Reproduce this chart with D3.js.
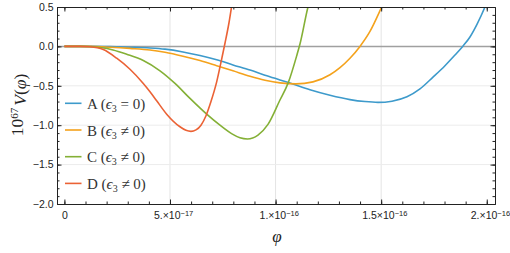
<!DOCTYPE html>
<html>
<head>
<meta charset="utf-8">
<script src="https://cdn.jsdelivr.net/npm/d3@7"></script>
<style>
  body { margin: 0; background: #fff; }
  svg { display: block; }
</style>
</head>
<body>
<div class="chart"></div>
<script>
// phi values are in units of 1e-17, V in units of 1e-67
const UNIT = 1e-17;

const phiA = [0, 1.212, 2.159, 3.106, 4.053, 4.763, 5.616, 6.420, 7.211, 7.983, 8.788, 9.498, 10.208, 10.682, 11.629, 12.576, 13.523, 14.233, 14.848, 15.511, 16.222, 16.837, 17.453, 18.021, 18.494, 18.859, 19.205, 19.536, 19.915, 20.152];
const vA   = [0, 0, -0.003, -0.01, -0.02, -0.035, -0.07, -0.115, -0.17, -0.235, -0.30, -0.365, -0.425, -0.465, -0.55, -0.62, -0.675, -0.70, -0.71, -0.695, -0.64, -0.54, -0.39, -0.245, -0.11, 0, 0.12, 0.28, 0.5, 0.66];

const phiB = [0, 1.212, 2.159, 3.106, 4.053, 4.763, 5.616, 6.420, 7.211, 7.983, 8.788, 9.498, 10.208, 10.966, 11.771, 12.576, 13.049, 13.523, 13.996, 14.470, 15.024, 15.227];
const vB   = [0, 0, -0.01, -0.025, -0.045, -0.075, -0.125, -0.18, -0.245, -0.31, -0.38, -0.43, -0.463, -0.475, -0.45, -0.36, -0.27, -0.15, 0, 0.19, 0.5, 0.62];

const phiC = [0, 0.739, 1.354, 1.686, 2.301, 2.950, 3.736, 4.527, 5.237, 5.947, 6.738, 7.367, 7.936, 8.314, 8.670, 9.167, 9.640, 10.208, 10.601, 10.999, 11.155, 11.534, 11.676];
const vC   = [0, 0, -0.005, -0.015, -0.045, -0.10, -0.18, -0.31, -0.47, -0.66, -0.86, -1.0, -1.11, -1.16, -1.175, -1.125, -0.99, -0.68, -0.46, -0.12, 0.03, 0.5, 0.64];

const phiD = [0, 0.739, 1.212, 1.842, 2.476, 3.106, 3.736, 4.053, 4.370, 4.844, 5.473, 5.758, 5.994, 6.231, 6.468, 6.705, 6.941, 7.211, 7.448, 7.604, 7.794, 7.959];
const vD   = [0, 0, -0.005, -0.04, -0.15, -0.29, -0.47, -0.575, -0.69, -0.86, -1.02, -1.065, -1.078, -1.06, -1.0, -0.88, -0.70, -0.45, -0.16, 0.04, 0.3, 0.58];

const seriesNames = ["A", "B", "C", "D"];
const legendLabels = [["A (", "ϵ", "3", " = 0)"], ["B (", "ϵ", "3", " ≠ 0)"], ["C (", "ϵ", "3", " ≠ 0)"], ["D (", "ϵ", "3", " ≠ 0)"]];
const colors = ["#3d9acb", "#f4a21c", "#84b036", "#eb6235"];

const xTicks = [0, 5e-17, 1e-16, 1.5e-16, 2e-16];
const xTickMant = ["0", "5.×10", "1.×10", "1.5×10", "2.×10"];
const xTickExp = ["", "−17", "−16", "−16", "−16"];
const yTicks = [-2, -1.5, -1, -0.5, 0, 0.5];
const yTickLabels = ["−2.0", "−1.5", "−1.0", "−0.5", "0.0", "0.5"];

const width = 510, height = 253;
const plot = { left: 57, right: 495, top: 7, bottom: 204 };

const svg = d3.select('.chart')
              .append('svg')
              .attr('width', width)
              .attr('height', height);

const x = d3.scaleLinear()
            .domain([-0.35 * UNIT, 20.39 * UNIT])
            .range([plot.left, plot.right]);

const y = d3.scaleLinear()
            .domain([-2, 0.5])
            .range([plot.bottom, plot.top]);

//grid lines
svg.append('g')
   .selectAll('line')
   .data(xTicks.slice(1, 4))
   .enter()
   .append('line')
   .attr('x1', d => x(d)).attr('x2', d => x(d))
   .attr('y1', plot.top).attr('y2', plot.bottom)
   .attr('stroke', '#e4e4e4')
   .attr('stroke-width', 1);

svg.append('g')
   .selectAll('line')
   .data([-1.5, -1, -0.5])
   .enter()
   .append('line')
   .attr('x1', plot.left).attr('x2', plot.right)
   .attr('y1', d => y(d)).attr('y2', d => y(d))
   .attr('stroke', '#ececec')
   .attr('stroke-width', 1);

//zero axis
svg.append('line')
   .attr('x1', plot.left).attr('x2', plot.right)
   .attr('y1', y(0)).attr('y2', y(0))
   .attr('stroke', '#a0a0a0')
   .attr('stroke-width', 1.5);

//curves, clipped to the frame
svg.append('clipPath')
   .attr('id', 'clip')
   .append('rect')
   .attr('x', plot.left).attr('y', plot.top)
   .attr('width', plot.right - plot.left)
   .attr('height', plot.bottom - plot.top);

const allPhi = [phiA, phiB, phiC, phiD];
const allV = [vA, vB, vC, vD];

const line = d3.line()
               .x(d => x(d[0] * UNIT))
               .y(d => y(d[1]))
               .curve(d3.curveMonotoneX);

svg.append('g')
   .attr('clip-path', 'url(#clip)')
   .selectAll('path')
   .data(seriesNames)
   .enter()
   .append('path')
   .attr('d', (name, i) => line(d3.zip(allPhi[i], allV[i])))
   .attr('fill', 'none')
   .attr('stroke', (name, i) => colors[i])
   .attr('stroke-width', 1.6);

//frame with inward ticks
const minorX = d3.range(0, 21).map(k => k * UNIT);
const minorY = d3.range(-20, 6).map(k => k / 10);

function styleAxis(g) {
    g.select('.domain').attr('stroke', '#222');
    g.selectAll('.tick line').attr('stroke', '#222');
    g.selectAll('text').attr('fill', '#222')
     .style('font-family', '"Liberation Sans", Arial, sans-serif')
     .style('font-size', '10.5px');
}

svg.append('g')
   .attr('transform', `translate(0, ${plot.bottom})`)
   .call(d3.axisBottom(x).tickValues(minorX).tickSize(-2.5).tickFormat('').tickSizeOuter(0))
   .call(styleAxis);
const bottomAxis = svg.append('g')
   .attr('transform', `translate(0, ${plot.bottom})`)
   .call(d3.axisBottom(x).tickValues(xTicks).tickSize(-4.5).tickPadding(8).tickSizeOuter(0))
   .call(styleAxis);
bottomAxis.selectAll('.tick text').each(function (d, i) {
    const t = d3.select(this).text(xTickMant[i]).attr('dy', '0.71em');
    if (xTickExp[i]) {
        t.append('tspan').text(xTickExp[i])
         .attr('dy', '-0.45em')
         .style('font-size', '7.5px');
        t.attr('dx', '0.3em');
    }
});

svg.append('g')
   .attr('transform', `translate(0, ${plot.top})`)
   .call(d3.axisTop(x).tickValues(minorX).tickSize(-2.5).tickFormat('').tickSizeOuter(0))
   .call(styleAxis);
svg.append('g')
   .attr('transform', `translate(0, ${plot.top})`)
   .call(d3.axisTop(x).tickValues(xTicks).tickSize(-4.5).tickFormat('').tickSizeOuter(0))
   .call(styleAxis);

svg.append('g')
   .attr('transform', `translate(${plot.left}, 0)`)
   .call(d3.axisLeft(y).tickValues(minorY).tickSize(-2.5).tickFormat('').tickSizeOuter(0))
   .call(styleAxis);
svg.append('g')
   .attr('transform', `translate(${plot.left}, 0)`)
   .call(d3.axisLeft(y).tickValues(yTicks).tickSize(-4.5).tickPadding(3.5)
         .tickFormat((d, i) => yTickLabels[i]).tickSizeOuter(0))
   .call(styleAxis);

svg.append('g')
   .attr('transform', `translate(${plot.right}, 0)`)
   .call(d3.axisRight(y).tickValues(minorY).tickSize(-2.5).tickFormat('').tickSizeOuter(0))
   .call(styleAxis);
svg.append('g')
   .attr('transform', `translate(${plot.right}, 0)`)
   .call(d3.axisRight(y).tickValues(yTicks).tickSize(-4.5).tickFormat('').tickSizeOuter(0))
   .call(styleAxis);

//axis titles
const serif = '"Liberation Serif", "Times New Roman", "DejaVu Serif", serif';

svg.append('text')
   .attr('x', (plot.left + plot.right) / 2 + 1)
   .attr('y', 242)
   .attr('text-anchor', 'middle')
   .style('font-family', serif)
   .style('font-style', 'italic')
   .style('font-size', '17px')
   .attr('fill', '#222')
   .text('φ');

const yTitle = svg.append('text')
   .attr('transform', 'translate(23, 105) rotate(-90)')
   .attr('text-anchor', 'middle')
   .style('font-family', serif)
   .style('font-size', '17.5px')
   .attr('fill', '#222');
yTitle.append('tspan').text('10');
yTitle.append('tspan').text('67').attr('dy', '-0.45em').style('font-size', '11px');
yTitle.append('tspan').text('V').attr('dy', '0.45em').attr('dx', '2').style('font-style', 'italic');
yTitle.append('tspan').text('(');
yTitle.append('tspan').text('φ').style('font-style', 'italic');
yTitle.append('tspan').text(')');

//legend
const legend = svg.append('g')
   .selectAll('g')
   .data(seriesNames)
   .enter()
   .append('g')
   .attr('transform', (d, i) => `translate(65, ${103.3 + i * 26.7})`);

legend.append('line')
   .attr('x1', 0).attr('x2', 16.5)
   .attr('stroke', (d, i) => colors[i])
   .attr('stroke-width', 1.6);

legend.append('text')
   .attr('x', 22)
   .attr('y', 5.5)
   .style('font-family', serif)
   .style('font-size', '15px')
   .attr('fill', '#333')
   .each(function (d, i) {
       const parts = legendLabels[i];
       const t = d3.select(this);
       t.append('tspan').text(parts[0]);
       t.append('tspan').text(parts[1]).style('font-style', 'italic');
       t.append('tspan').text(parts[2]).attr('dy', '3').style('font-size', '10px');
       t.append('tspan').text(parts[3]).attr('dy', '-3');
   });
</script>
</body>
</html>
